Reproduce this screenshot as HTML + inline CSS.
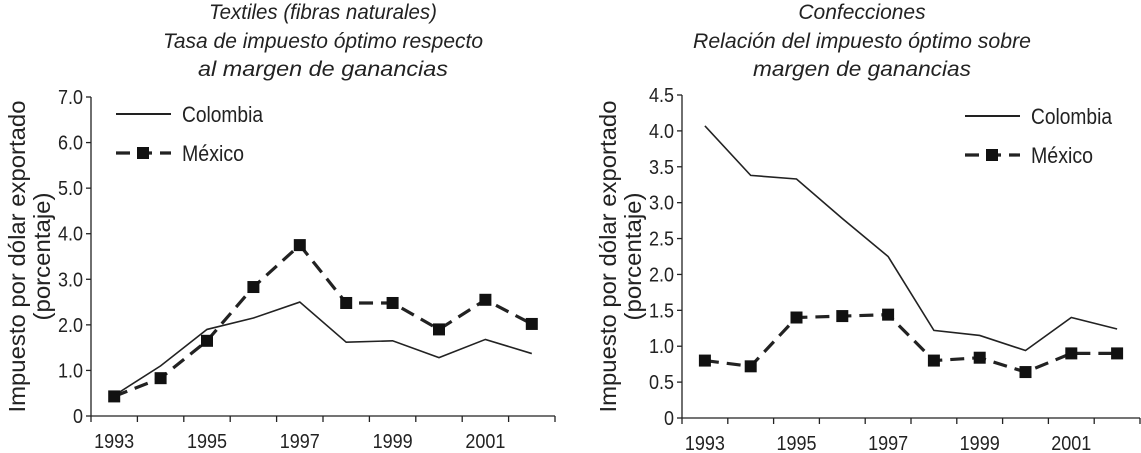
<!DOCTYPE html>
<html><head><meta charset="utf-8"><style>
body{margin:0;background:#fff;}
svg{display:block;font-family:"Liberation Sans",sans-serif;}
</style></head><body>
<svg id="s" width="1141" height="453" viewBox="0 0 1141 453">
<g fill="#222" font-style="italic" font-size="21" text-anchor="middle">
<text x="323" y="19" textLength="228" lengthAdjust="spacingAndGlyphs">Textiles (fibras naturales)</text>
<text x="323" y="48" textLength="320" lengthAdjust="spacingAndGlyphs">Tasa de impuesto óptimo respecto</text>
<text x="323" y="76" textLength="250" lengthAdjust="spacingAndGlyphs">al margen de ganancias</text>
<text x="862" y="19">Confecciones</text>
<text x="862" y="48" textLength="338" lengthAdjust="spacingAndGlyphs">Relación del impuesto óptimo sobre</text>
<text x="862" y="76" textLength="218" lengthAdjust="spacingAndGlyphs">margen de ganancias</text>
</g>
</svg>
<script>
const years=["1993","1994","1995","1996","1997","1998","1999","2000","2001","2002"];
const leftColombia=[0.45,1.1,1.9,2.15,2.5,1.62,1.65,1.28,1.68,1.37];
const leftMexico=[0.43,0.83,1.65,2.83,3.75,2.48,2.48,1.9,2.55,2.02];
const leftTicks=["0","1.0","2.0","3.0","4.0","5.0","6.0","7.0"];
const leftTickVals=[0,1,2,3,4,5,6,7];
const rightColombia=[4.07,3.38,3.33,2.78,2.25,1.22,1.15,0.94,1.4,1.24];
const rightMexico=[0.8,0.72,1.4,1.42,1.44,0.8,0.84,0.64,0.9,0.9];
const rightTicks=["0","0.5","1.0","1.5","2.0","2.5","3.0","3.5","4.0","4.5"];
const rightTickVals=[0,0.5,1,1.5,2,2.5,3,3.5,4,4.5];
const NS="http://www.w3.org/2000/svg";
const svg=document.getElementById('s');
function mk(t,a,p){const e=document.createElementNS(NS,t);for(const k in a)e.setAttribute(k,a[k]);(p||svg).appendChild(e);return e;}
function chart(o){
  const g=mk('g',{});
  
  
  const n=years.length, step=(o.x1-o.x0)/n;
  const X=i=>o.x0+step*(i+0.5);
  const Y=v=>o.y0-(v/o.max)*(o.y0-o.yTop);
  mk('line',{x1:o.x0,y1:o.yTop,x2:o.x0,y2:o.y0,stroke:'#222','stroke-width':1.3},g);
  mk('line',{x1:o.x0,y1:o.y0,x2:o.x1,y2:o.y0,stroke:'#222','stroke-width':1.3},g);
  o.tickVals.forEach((v,i)=>{
    mk('line',{x1:o.x0-5,y1:Y(v),x2:o.x0,y2:Y(v),stroke:'#222','stroke-width':1.3},g);
    const t=mk('text',{x:o.x0-8,y:Y(v)+7,'text-anchor':'end','font-size':20,fill:'#222',transform:`translate(${(o.x0-8)*0.1},0) scale(0.9,1)`},g);
    t.textContent=o.ticks[i];
    
    
  });
  for(let i=0;i<=n;i++) mk('line',{x1:o.x0+step*i,y1:o.y0,x2:o.x0+step*i,y2:o.y0+6,stroke:'#222','stroke-width':1.3},g);
  years.forEach((y,i)=>{ if(i%2==0){
    const t=mk('text',{x:X(i),y:o.y0+32,'text-anchor':'middle','font-size':20,fill:'#222',transform:`translate(${X(i)*0.1},0) scale(0.9,1)`},g);
    t.textContent=y;
    
    
  }});
  const yt=mk('text',{transform:`translate(${o.x0-66},${(o.y0+o.yTop)/2}) rotate(-90)`,'text-anchor':'middle','font-size':23,fill:'#222'},g);
  
  
  const ts1=mk('tspan',{x:0,dy:0,textLength:312,lengthAdjust:'spacingAndGlyphs'},yt); ts1.textContent='Impuesto por dólar exportado';
  const ts2=mk('tspan',{x:0,dy:25,textLength:128,lengthAdjust:'spacingAndGlyphs'},yt); ts2.textContent='(porcentaje)';
  const c=mk('polyline',{points:o.col.map((v,i)=>X(i)+','+Y(v)).join(' '),fill:'none',stroke:'#222','stroke-width':1.6},g);
  
  
  const m=mk('polyline',{points:o.mex.map((v,i)=>X(i)+','+Y(v)).join(' '),fill:'none',stroke:'#222','stroke-width':3.2,'stroke-dasharray':'14 8'},g);
  
  
  o.mex.forEach((v,i)=>{
    const r=mk('rect',{x:X(i)-6,y:Y(v)-6,width:12,height:12,fill:'#111'},g);
    
    
  });
  const L=o.leg;
  mk('line',{x1:L[0],y1:L[1],x2:L[0]+55,y2:L[1],stroke:'#222','stroke-width':2},g);
  const l1=mk('text',{x:L[0]+66,y:L[1]+8,'font-size':22,fill:'#222',textLength:81,lengthAdjust:'spacingAndGlyphs'},g); l1.textContent='Colombia';
  
  
  mk('line',{x1:L[0],y1:L[1]+39,x2:L[0]+55,y2:L[1]+39,stroke:'#222','stroke-width':3.2,'stroke-dasharray':'14 8'},g);
  mk('rect',{x:L[0]+21,y:L[1]+33,width:12,height:12,fill:'#111'},g);
  const l2=mk('text',{x:L[0]+66,y:L[1]+47,'font-size':22,fill:'#222',textLength:62,lengthAdjust:'spacingAndGlyphs'},g); l2.textContent='México';
  
  
}
chart({name:'left-chart',x0:91,x1:555,y0:416,yTop:97,max:7,ticks:leftTicks,tickVals:leftTickVals,col:leftColombia,mex:leftMexico,leg:[116,114]});
chart({name:'right-chart',x0:682,x1:1140,y0:418,yTop:95,max:4.5,ticks:rightTicks,tickVals:rightTickVals,col:rightColombia,mex:rightMexico,leg:[965,116]});
</script>
</body></html>
